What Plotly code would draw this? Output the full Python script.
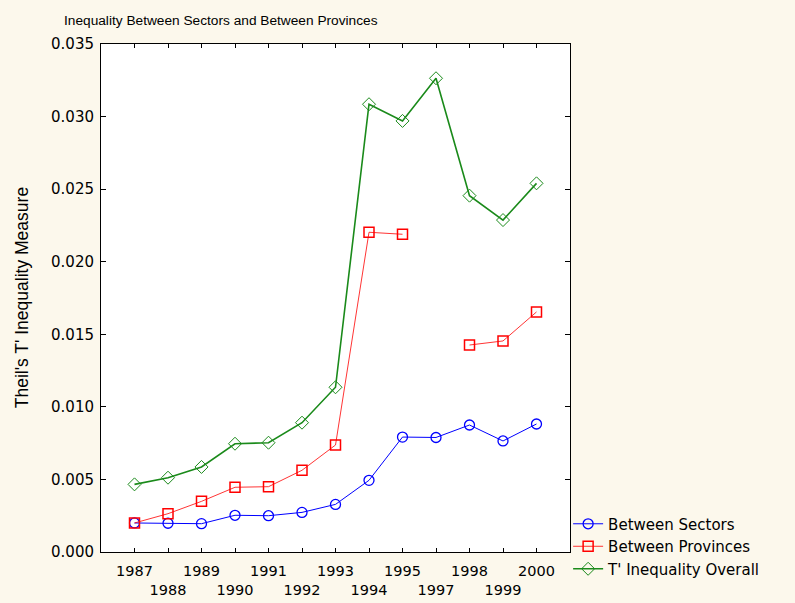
import plotly.graph_objects as go

years = ["1987", "1988", "1989", "1990", "1991", "1992", "1993",
         "1994", "1995", "1997", "1998", "1999", "2000"]
tick_labels = ["1987", "<br>1988", "1989", "<br>1990", "1991", "<br>1992", "1993",
               "<br>1994", "1995", "<br>1997", "1998", "<br>1999", "2000"]

between_sectors = [0.0020, 0.00198, 0.00195, 0.00253, 0.0025, 0.00273, 0.00328,
                   0.00494, 0.00792, 0.00789, 0.00875, 0.00765, 0.00882]
between_provinces = [0.0020, 0.00264, 0.00349, 0.00446, 0.0045, 0.00563, 0.00737,
                     0.02203, 0.02189, None, 0.01426, 0.01454, 0.01654]
overall = [0.00466, 0.00512, 0.00586, 0.00746, 0.00753, 0.00891, 0.01135,
           0.03085, 0.02970, 0.03264, 0.02455, 0.02287, 0.0254]

y_ticks = [0.0, 0.005, 0.01, 0.015, 0.02, 0.025, 0.03, 0.035]

FONT = "Liberation Sans, Arial, sans-serif"
TFONT = "DejaVu Sans, Verdana, sans-serif"
BG = "#FCF8EC"

fig = go.Figure()
fig.add_trace(go.Scatter(
    x=years, y=between_sectors, name="Between Sectors", mode="lines+markers",
    line=dict(color="#0000FF", width=1),
    marker=dict(symbol="circle-open", size=10, color="#0000FF", line=dict(width=1.3)),
))
fig.add_trace(go.Scatter(
    x=years, y=between_provinces, name="Between Provinces", mode="lines+markers",
    connectgaps=False,
    line=dict(color="#FF0000", width=0.8),
    marker=dict(symbol="square-open", size=10, color="#FF0000", line=dict(width=1.5)),
))
fig.add_trace(go.Scatter(
    x=years, y=overall, name="T' Inequality Overall", mode="lines+markers",
    line=dict(color="#1A8A1A", width=1.6),
    marker=dict(symbol="diamond-open", size=10, color="#1A8A1A", line=dict(width=1)),
))

fig.update_layout(
    width=795, height=603,
    paper_bgcolor=BG, plot_bgcolor="white",
    margin=dict(l=101, r=225, t=44, b=51, autoexpand=False),
    font=dict(family=FONT, size=15, color="black"),
    showlegend=True,
    legend=dict(
        x=0.996, y=-0.066, xanchor="left", yanchor="bottom",
        bgcolor="rgba(0,0,0,0)", font=dict(size=15, family=TFONT),
        itemwidth=30, tracegroupgap=0,
    ),
    xaxis=dict(
        type="category", range=[-1, 13],
        tickmode="array", tickvals=years, ticktext=tick_labels,
        tickangle=0, automargin=False, ticklabelstandoff=6,
        ticks="inside", ticklen=4, tickcolor="black",
        showline=True, linecolor="black", linewidth=1, mirror="ticks",
        showgrid=False, zeroline=False,
        tickfont=dict(size=14.5, family=TFONT),
    ),
    yaxis=dict(
        range=[0, 0.035], tickvals=y_ticks, tickformat=".3f",
        automargin=False, ticklabelstandoff=3,
        ticks="inside", ticklen=5, tickcolor="black",
        showline=True, linecolor="black", linewidth=1, mirror="ticks",
        showgrid=False, zeroline=False,
        tickfont=dict(size=15, family=TFONT),
    ),
    annotations=[
        dict(text="Inequality Between Sectors and Between Provinces",
             xref="paper", yref="paper", x=-0.083, y=1.047,
             xanchor="left", yanchor="middle", showarrow=False,
             font=dict(size=13.7, family=FONT)),
        dict(text="Theil's T' Inequality Measure",
             xref="paper", yref="paper", x=-0.168, y=0.5,
             xanchor="center", yanchor="middle", textangle=-90, showarrow=False,
             font=dict(size=17.5, family=FONT)),
    ],
)

fig.write_html("out.html", config={"displayModeBar": False},
               post_script="document.body.style.margin='0';")
